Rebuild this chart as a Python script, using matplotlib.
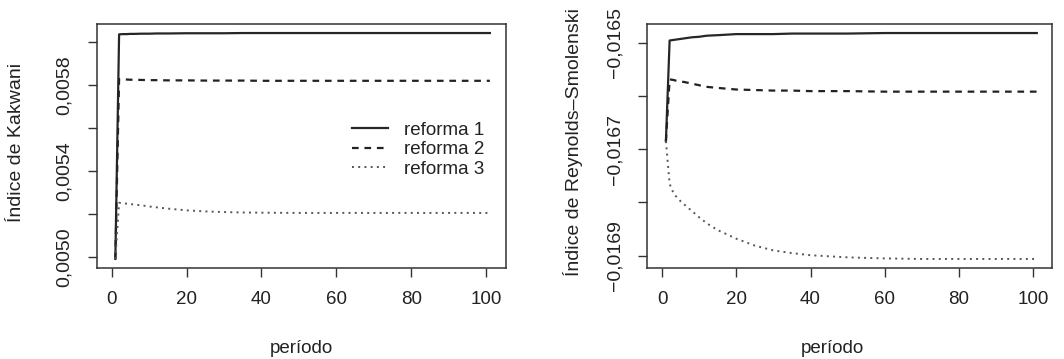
import matplotlib
matplotlib.use("Agg")
import matplotlib.pyplot as plt
from matplotlib.ticker import FixedLocator, FixedFormatter

plt.rcParams['font.family'] = ['Liberation Sans', 'DejaVu Sans']

# Simulation periods at which the indices are recorded
periodo = [1, 2, 3, 4, 5, 6, 8, 10, 12, 15, 20, 25, 30, 35, 40, 50, 60, 70, 80, 90, 101]

# Kakwani index by reform
kak_r1 = [0.004992, 0.006036, 0.006037, 0.006037, 0.006038, 0.006038, 0.006039,
          0.006039, 0.006040, 0.006040, 0.006041, 0.006041, 0.006041, 0.006042,
          0.006042, 0.006042, 0.006042, 0.006042, 0.006042, 0.006042, 0.006042]
kak_r2 = [0.004992, 0.005828, 0.005827, 0.005826, 0.005825, 0.005825, 0.005824,
          0.005823, 0.005823, 0.005822, 0.005822, 0.005821, 0.005821, 0.005821,
          0.005820, 0.005820, 0.005820, 0.005820, 0.005820, 0.005820, 0.005820]
kak_r3 = [0.004992, 0.005253, 0.005251, 0.005249, 0.005247, 0.005245, 0.005241,
          0.005236, 0.005232, 0.005226, 0.005218, 0.005213, 0.005210, 0.005208,
          0.005207, 0.005206, 0.005206, 0.005206, 0.005206, 0.005206, 0.005206]

# Reynolds-Smolensky index by reform
rs_r1 = [-0.016685, -0.016496, -0.016495, -0.016494, -0.016493, -0.016492, -0.016490,
         -0.016489, -0.016487, -0.016486, -0.016484, -0.016484, -0.016484, -0.016483,
         -0.016483, -0.016483, -0.016482, -0.016482, -0.016482, -0.016482, -0.016482]
rs_r2 = [-0.016685, -0.016569, -0.016570, -0.016572, -0.016573, -0.016574, -0.016577,
         -0.016580, -0.016583, -0.016585, -0.016588, -0.016589, -0.016590, -0.016590,
         -0.016591, -0.016591, -0.016592, -0.016592, -0.016592, -0.016592, -0.016592]
rs_r3 = [-0.016685, -0.016765, -0.016782, -0.016791, -0.016798, -0.016804, -0.016816,
         -0.016828, -0.016839, -0.016852, -0.016868, -0.016881, -0.016890, -0.016895,
         -0.016899, -0.016903, -0.016905, -0.016906, -0.016906, -0.016906, -0.016906]

series_labels = ['reforma 1', 'reforma 2', 'reforma 3']

kak_ticks = [0.0050, 0.0052, 0.0054, 0.0056, 0.0058, 0.0060]
kak_ticklabels = ['0,0050', '', '0,0054', '', '0,0058', '']
rs_ticks = [-0.0169, -0.0168, -0.0167, -0.0166, -0.0165]
rs_ticklabels = ['\u22120,0169', '', '\u22120,0167', '', '\u22120,0165']
x_ticks = [0, 20, 40, 60, 80, 100]

W, H = 1064, 359
fig = plt.figure(figsize=(W / 100, H / 100), dpi=100)

styles = [
    dict(color='#262626', lw=1.6, ls='-'),
    dict(color='#222222', lw=1.6, ls=(0, (3, 2.6))),
    dict(color='#555555', lw=1.4, ls=(0, (1, 2.2))),
]

def make_axes(left_px, right_px):
    top_px, bottom_px = 24, 268
    return fig.add_axes([left_px / W, 1 - bottom_px / H,
                         (right_px - left_px) / W, (bottom_px - top_px) / H])

def style_axes(ax, yticks, yticklabels, ylabel, ylabel_x, xlabel_x):
    for s in ax.spines.values():
        s.set_color('#333333')
        s.set_linewidth(1.1)
    ax.set_xlim(-3.9, 105.3)
    ax.margins(y=0.04)
    ax.xaxis.set_major_locator(FixedLocator(x_ticks))
    ax.set_xticklabels([str(t) for t in x_ticks])
    ax.yaxis.set_major_locator(FixedLocator(yticks))
    ax.yaxis.set_major_formatter(FixedFormatter(yticklabels))
    ax.tick_params(axis='both', direction='out', length=6.7, width=1.0,
                   color='#333333', labelcolor='#222222', labelsize=13.5)
    ax.tick_params(axis='x', pad=9.5)
    ax.tick_params(axis='y', pad=10.5, labelsize=14)
    for lab in ax.get_yticklabels():
        lab.set_rotation(90)
        lab.set_va('center')
    ax.set_xlabel('período', fontsize=13.5, color='#222222')
    ax.xaxis.set_label_coords(xlabel_x, -0.328)
    ax.xaxis.label.set_va('center')
    ax.set_ylabel(ylabel, fontsize=14, color='#222222')
    ax.yaxis.set_label_coords(ylabel_x, 0.515)
    ax.yaxis.label.set_va('center')

# Left panel: Kakwani
ax1 = make_axes(97, 506)
for ys, lab, st in zip([kak_r1, kak_r2, kak_r3], series_labels, styles):
    ax1.plot(periodo, ys, label=lab, **st)
style_axes(ax1, kak_ticks, kak_ticklabels, 'Índice de Kakwani', -0.1956, 0.5)
ax1.legend(loc='center left', bbox_to_anchor=(0.623, 0.485), frameon=False,
           fontsize=13.5, handlelength=1.95, handletextpad=0.85, labelspacing=0.12,
           borderaxespad=0.0, borderpad=0.0, labelcolor='#222222')

# Right panel: Reynolds-Smolensky
ax2 = make_axes(647, 1052)
for ys, lab, st in zip([rs_r1, rs_r2, rs_r3], series_labels, styles):
    ax2.plot(periodo, ys, label=lab, **st)
style_axes(ax2, rs_ticks, rs_ticklabels, 'Índice de Reynolds\u2013Smolenski', -0.1837, 0.459)
ax2.set_xlim(-4.1, 105.1)

fig.savefig('out.png', dpi=100, facecolor='white')
